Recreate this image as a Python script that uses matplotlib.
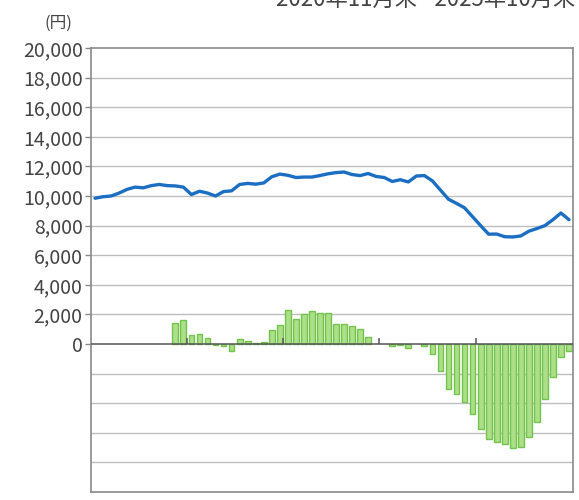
import matplotlib
matplotlib.use("Agg")
import matplotlib.pyplot as plt
import numpy as np

plt.rcParams['font.family'] = ['Noto Sans CJK JP', 'DejaVu Sans']

title_text = "2020年11月末 ~2025年10月末"
unit_label = "(円)"

# Monthly values, Nov 2020 - Oct 2025 (60 months)
price = [9850, 9950, 10000, 10200, 10450, 10600, 10550, 10700, 10780, 10700,
         10680, 10600, 10100, 10320, 10200, 10000, 10300, 10350, 10780, 10850,
         10800, 10880, 11300, 11480, 11400, 11250, 11280, 11280, 11380, 11500,
         11580, 11620, 11450, 11380, 11520, 11320, 11250, 10980, 11100, 10950,
         11350, 11380, 11020, 10400, 9780, 9500, 9200, 8600, 8000, 7420,
         7430, 7250, 7230, 7300, 7620, 7800, 8000, 8400, 8850, 8400]

change = [0, 0, 0, 0, 0, 0, 0, 0, 0, 0,
          1420, 1620, 600, 680, 400, -60, -150, -500, 330, 200,
          50, 150, 950, 1300, 2330, 1720, 2050, 2230, 2080, 2080,
          1350, 1330, 1200, 1000, 470, 0, 0, -150, -100, -300,
          0, -150, -680, -1800, -3040, -3380, -3940, -4730, -5740, -6420,
          -6640, -6760, -7050, -6980, -6300, -5290, -3720, -2250, -900, -450]

ytick_values = [0, 2000, 4000, 6000, 8000, 10000, 12000, 14000, 16000, 18000, 20000]
ytick_labels = ["0", "2,000", "4,000", "6,000", "8,000", "10,000", "12,000",
                "14,000", "16,000", "18,000", "20,000"]
neg_grid = [-2000, -4000, -6000, -8000]
year_ticks = [11.4, 23.4, 35.4, 47.4]

fig = plt.figure(figsize=(5.79, 5.00), dpi=100)
ax = fig.add_axes([91/579, 8/500, 482/579, 444/500])

x = np.arange(len(price))
chg = np.array(change, dtype=float)
nz = chg != 0

for g in ytick_values[1:-1] + neg_grid:
    ax.axhline(g, color='#bdbdbd', lw=1.0, zorder=1)

ax.bar(x[nz], chg[nz], width=0.72, color='#acdf87', edgecolor='#72c44e', linewidth=1.0, zorder=2)
ax.axhline(0, color='#555555', lw=1.1, zorder=3)
ax.vlines(year_ticks, 0, 380, color='#555555', lw=1.1, zorder=3)
ax.plot(x, price, color='#1b6ec2', lw=2.4, zorder=4, solid_capstyle='round')

ax.set_xlim(-0.5, 59.5)
ax.set_ylim(-10000, 20000)
ax.set_xticks([])
ax.set_yticks(ytick_values)
ax.set_yticklabels(ytick_labels, fontsize=14, color='#444444')
ax.tick_params(axis='y', length=4, width=1, color='#888888', pad=2)
for s in ax.spines.values():
    s.set_color('#8a8a8a')
    s.set_linewidth(1.2)

fig.text(58/579, 1 - 23/500, unit_label, ha='center', va='center', fontsize=12, color='#444444')
fig.text(575/579, 1 - 6/500, title_text, ha='right', va='baseline', fontsize=16, color='#444444')

fig.savefig('out.png', dpi=100, facecolor='white')
